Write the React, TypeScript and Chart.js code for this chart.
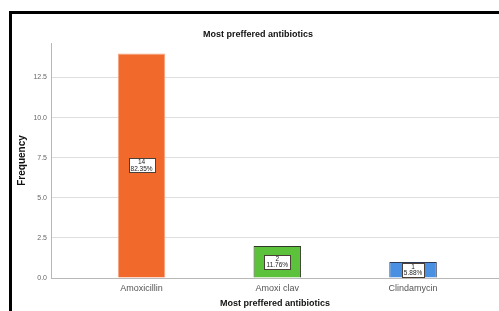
import React, { useEffect, useRef } from "react";
import { Chart, registerables } from "chart.js";

Chart.register(...registerables);

const categories = ["Amoxicillin", "Amoxi clav", "Clindamycin"];
const frequencies = [14, 2, 1];
const barColors = ["#F26A2B", "#5CC13B", "#4A90E2"];
const barBorders = ["#F7A47C", "#2F3A28", "#2C3A55"];
const yTicks = [0, 2.5, 5, 7.5, 10, 12.5];
const chartTitle = "Most preffered antibiotics";
const xTitle = "Most preffered antibiotics";
const yTitle = "Frequency";

const FONT = "'Liberation Sans', Arial, sans-serif";

export default function App() {
  const ref = useRef<HTMLCanvasElement>(null);

  useEffect(() => {
    document.body.style.margin = "0";
    const canvas = ref.current!;
    const total = frequencies.reduce((a, b) => a + b, 0);

    const framePlugin = {
      id: "frame",
      beforeDraw(chart: any) {
        const { ctx, width, height } = chart;
        ctx.save();
        ctx.fillStyle = "#ffffff";
        ctx.fillRect(0, 0, width, height);
        ctx.fillStyle = "#000000";
        ctx.fillRect(9, 11, 3, height - 11);
        ctx.fillRect(9, 11, width - 9, 3);
        ctx.restore();
      },
      afterDraw(chart: any) {
        const { ctx } = chart;
        ctx.save();
        ctx.font = `bold 9px ${FONT}`;
        ctx.fillStyle = "#111";
        ctx.textAlign = "center";
        ctx.textBaseline = "middle";
        ctx.fillText(chartTitle, 258, 35);
        ctx.restore();
      },
    };

    const labelPlugin = {
      id: "barLabels",
      afterDatasetsDraw(chart: any) {
        const { ctx } = chart;
        const meta = chart.getDatasetMeta(0);
        ctx.save();
        ctx.font = `6.5px ${FONT}`;
        ctx.textAlign = "center";
        ctx.textBaseline = "middle";
        meta.data.forEach((bar: any, i: number) => {
          const v = frequencies[i];
          const pct = ((v / total) * 100).toFixed(2) + "%";
          const cx = bar.x;
          const cy = (bar.y + bar.base) / 2;
          const w = Math.round(ctx.measureText(pct).width + 4);
          const h = 14;
          const x0 = Math.round(cx - w / 2) + 0.5;
          const y0 = Math.round(cy - h / 2) + 0.5;
          ctx.fillStyle = "#ffffff";
          ctx.fillRect(x0, y0, w, h);
          ctx.strokeStyle = "#4a4038";
          ctx.lineWidth = 1;
          ctx.strokeRect(x0, y0, w, h);
          ctx.fillStyle = "#222";
          ctx.fillText(String(v), cx, cy - 3);
          ctx.fillText(pct, cx, cy + 3.5);
        });
        ctx.restore();
      },
    };

    const chart = new Chart(canvas, {
      type: "bar",
      data: {
        datasets: [
          {
            data: frequencies.map((v, i) => ({ x: i, y: v })),
            backgroundColor: barColors,
            borderColor: barBorders,
            borderWidth: 1,
            barPercentage: 0.35,
            categoryPercentage: 1,
          },
        ],
      },
      options: {
        responsive: false,
        animation: false,
        devicePixelRatio: 1,
        layout: { padding: { top: 43, left: 0, right: 0, bottom: 0 } },
        plugins: {
          legend: { display: false },
          tooltip: { enabled: false },
          title: { display: false },
        },
        scales: {
          x: {
            type: "linear",
            min: -0.667,
            max: 2.633,
            offset: false,
            afterFit(scale: any) {
              scale.height = 33;
            },
            afterBuildTicks(scale: any) {
              scale.ticks = categories.map((_, i) => ({ value: i }));
            },
            grid: { display: false, drawTicks: false, offset: false },
            border: { display: true, color: "#b8b8b8", width: 1 },
            ticks: {
              padding: 5,
              autoSkip: false,
              maxRotation: 0,
              color: "#555",
              font: { family: FONT, size: 9 },
              callback: (v: any) => categories[Math.round(Number(v))] ?? "",
            },
            title: {
              display: true,
              text: xTitle,
              color: "#111",
              font: { family: FONT, size: 9, weight: "bold" },
              padding: { top: 0, bottom: 1.6 },
            },
          },
          y: {
            min: 0,
            max: 14.65,
            afterFit(scale: any) {
              scale.width = 51;
            },
            afterBuildTicks(scale: any) {
              scale.ticks = yTicks.map((v) => ({ value: v }));
            },
            grid: { color: "#dedede", lineWidth: 1, drawTicks: false },
            border: { display: true, color: "#b8b8b8", width: 1 },
            ticks: {
              padding: 4,
              color: "#666",
              font: { family: FONT, size: 7 },
              callback: (v: any) => Number(v).toFixed(1),
            },
            title: {
              display: true,
              text: yTitle,
              color: "#111",
              font: { family: FONT, size: 10, weight: "bold" },
              padding: { top: 16, bottom: 0 },
            },
          },
        },
      },
      plugins: [framePlugin, labelPlugin],
    } as any);

    return () => chart.destroy();
  }, []);

  return (
    <div style={{ width: 499, height: 311, overflow: "hidden" }}>
      <canvas ref={ref} width={499} height={311} style={{ display: "block" }} />
    </div>
  );
}
